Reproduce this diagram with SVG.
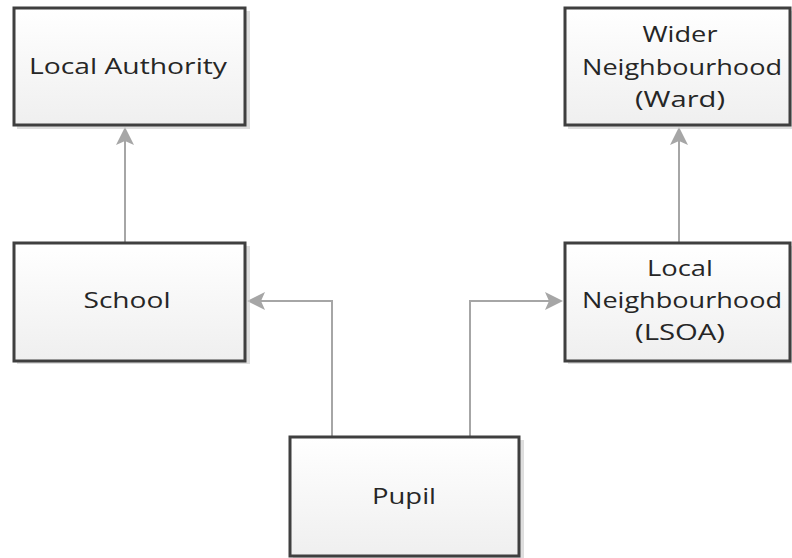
<svg xmlns="http://www.w3.org/2000/svg" width="792" height="558" viewBox="0 0 792 558">
<style>
.box{fill:url(#g);stroke:#3f3f3f;stroke-width:3}
.sh{fill:#c8c8c8;opacity:0.6}
.t{font-family:"Open Sans","Noto Sans",sans-serif;font-size:21px;fill:#262626;text-anchor:middle}
.c{fill:none;stroke:#a6a6a6;stroke-width:2}
</style>
<defs>
<linearGradient id="g" x1="0" y1="0" x2="0" y2="1">
<stop offset="0" stop-color="#ffffff"/>
<stop offset="1" stop-color="#efefef"/>
</linearGradient>
</defs>
<g id="connectors">
<path class="c" d="M125,243 V130"/>
<path class="c" d="M679,243 V130"/>
<path class="c" d="M332,437 V301 H252"/>
<path class="c" d="M470,437 V301 H558"/>
<g fill="#a6a6a6">
<path d="M125,127 L116,145 L125,141 L134,145 z"/>
<path d="M679,127 L670,145 L679,141 L688,145 z"/>
<path d="M247,301 L265,292 L261,301 L265,310 z"/>
<path d="M563,301 L545,292 L549,301 L545,310 z"/>
</g>
</g>
<g id="local-authority">
<rect class="sh" x="17" y="11" width="233" height="118"/>
<rect class="box" x="14" y="8" width="231" height="117"/>
<text class="t" x="128" y="74" textLength="198" lengthAdjust="spacingAndGlyphs">Local Authority</text>
</g>
<g id="wider-neighbourhood">
<rect class="sh" x="568" y="11" width="226" height="118"/>
<rect class="box" x="565" y="8" width="225" height="117"/>
<text class="t" x="680" y="42" textLength="75" lengthAdjust="spacingAndGlyphs">Wider</text>
<text class="t" x="682" y="75" textLength="200" lengthAdjust="spacingAndGlyphs">Neighbourhood</text>
<text class="t" x="680" y="107" textLength="90" lengthAdjust="spacingAndGlyphs">(Ward)</text>
</g>
<g id="school">
<rect class="sh" x="17" y="246" width="233" height="118"/>
<rect class="box" x="14" y="243" width="231" height="118"/>
<text class="t" x="127" y="308" textLength="87" lengthAdjust="spacingAndGlyphs">School</text>
</g>
<g id="local-neighbourhood">
<rect class="sh" x="568" y="246" width="226" height="118"/>
<rect class="box" x="565" y="243" width="225" height="118"/>
<text class="t" x="680" y="276" textLength="66" lengthAdjust="spacingAndGlyphs">Local</text>
<text class="t" x="682" y="308" textLength="200" lengthAdjust="spacingAndGlyphs">Neighbourhood</text>
<text class="t" x="680" y="340" textLength="90" lengthAdjust="spacingAndGlyphs">(LSOA)</text>
</g>
<g id="pupil">
<rect class="sh" x="293" y="440" width="231" height="120"/>
<rect class="box" x="290" y="437" width="229" height="119"/>
<text class="t" x="404" y="504" textLength="64" lengthAdjust="spacingAndGlyphs">Pupil</text>
</g>
</svg>
